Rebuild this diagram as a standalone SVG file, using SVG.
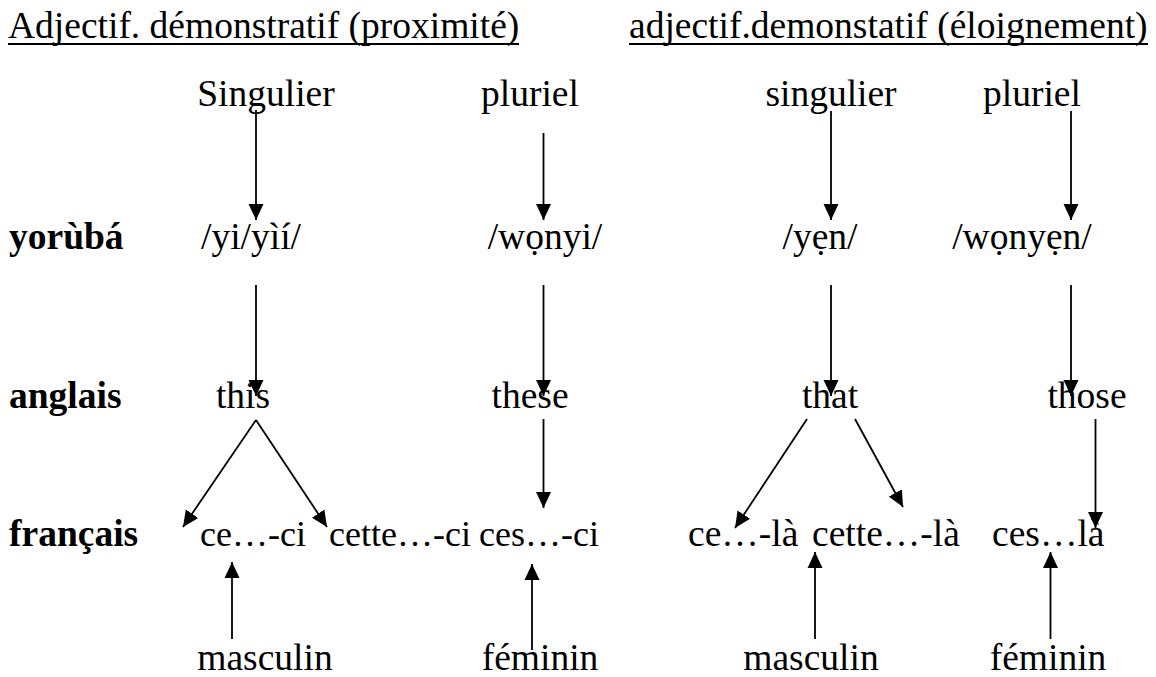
<svg xmlns="http://www.w3.org/2000/svg" width="1156" height="677" viewBox="0 0 1156 677">
<defs>
<marker id="ah" markerWidth="16" markerHeight="16" viewBox="0 0 16 16" refX="16" refY="8" orient="auto" markerUnits="userSpaceOnUse">
<path d="M0,0.5 L16,8 L0,15.5 Z" fill="#000"/>
</marker>
<style>
.t{font-family:'Liberation Serif','Times New Roman',serif;font-size:37.5px;fill:#000}
.b{font-weight:bold}
.m{text-anchor:middle}
.s{font-size:36px}
.u{stroke:#000;stroke-width:2}
.c line{stroke:#000;stroke-width:1.8;marker-end:url(#ah)}
</style>
</defs>
<rect width="1156" height="677" fill="#fff"/>
<g class="t">
<g id="title1"><text x="8" y="38">Adjectif. démonstratif (proximité)</text><line class="u" x1="8" y1="44" x2="519" y2="44"/></g>
<g id="title2"><text x="629" y="38">adjectif.demonstatif (éloignement)</text><line class="u" x1="629" y1="44" x2="1148" y2="44"/></g>
<g id="lbl-yoruba"><text class="b" x="9" y="249">yorùbá</text></g>
<g id="lbl-anglais"><text class="b" x="9" y="408">anglais</text></g>
<g id="lbl-francais"><text class="b" x="9" y="546">français</text></g>
<g id="sing1"><text class="m" x="266" y="106">Singulier</text></g>
<g id="plur1"><text class="m" x="530" y="106">pluriel</text></g>
<g id="sing2"><text class="m" x="831" y="106">singulier</text></g>
<g id="plur2"><text class="m" x="1032" y="106">pluriel</text></g>
<g id="yi"><text class="m" x="251" y="249">/yi/yìí/</text></g>
<g id="wonyi"><text class="m" x="545" y="249">/wọnyi/</text></g>
<g id="yen"><text class="m" x="820" y="249">/yẹn/</text></g>
<g id="wonyen"><text class="m" x="1022" y="249">/wọnyẹn/</text></g>
<g id="this"><text class="m" x="243" y="408">this</text></g>
<g id="these"><text class="m" x="530" y="408">these</text></g>
<g id="that"><text class="m" x="830" y="408">that</text></g>
<g id="those"><text class="m" x="1087" y="408">those</text></g>
<g id="ce-ci"><text class="s" x="200" y="546">ce…-ci</text></g>
<g id="cette-ci"><text class="s" x="329" y="546">cette…-ci</text></g>
<g id="ces-ci"><text class="s" x="479" y="546">ces…-ci</text></g>
<g id="ce-la"><text x="688" y="546">ce…-là</text></g>
<g id="cette-la"><text x="812" y="546">cette…-là</text></g>
<g id="ces-la"><text x="992" y="546">ces…là</text></g>
<g id="masc1"><text class="m" x="265" y="670">masculin</text></g>
<g id="fem1"><text class="m" x="540" y="670">féminin</text></g>
<g id="masc2"><text class="m" x="811" y="670">masculin</text></g>
<g id="fem2"><text class="m" x="1048" y="670">féminin</text></g>
</g>
<g id="connectors" class="c">
<line x1="256" y1="110" x2="256" y2="220"/>
<line x1="543.5" y1="133" x2="543.5" y2="220"/>
<line x1="831" y1="111" x2="831" y2="220"/>
<line x1="1071" y1="111" x2="1071" y2="220"/>
<line x1="256" y1="285" x2="256" y2="396"/>
<line x1="543.5" y1="285" x2="543.5" y2="396"/>
<line x1="831" y1="285" x2="831" y2="396"/>
<line x1="1071" y1="285" x2="1071" y2="396"/>
<line x1="256" y1="420" x2="183" y2="527"/>
<line x1="256" y1="420" x2="327" y2="527"/>
<line x1="543.5" y1="419" x2="543.5" y2="508"/>
<line x1="807" y1="419" x2="735" y2="528"/>
<line x1="855" y1="419" x2="903" y2="507"/>
<line x1="1095.5" y1="419" x2="1095.5" y2="528"/>
<line x1="232" y1="639" x2="232" y2="562"/>
<line x1="532" y1="650" x2="532" y2="564"/>
<line x1="815" y1="639" x2="815" y2="552"/>
<line x1="1050.5" y1="639" x2="1050.5" y2="552"/>
</g>
</svg>
